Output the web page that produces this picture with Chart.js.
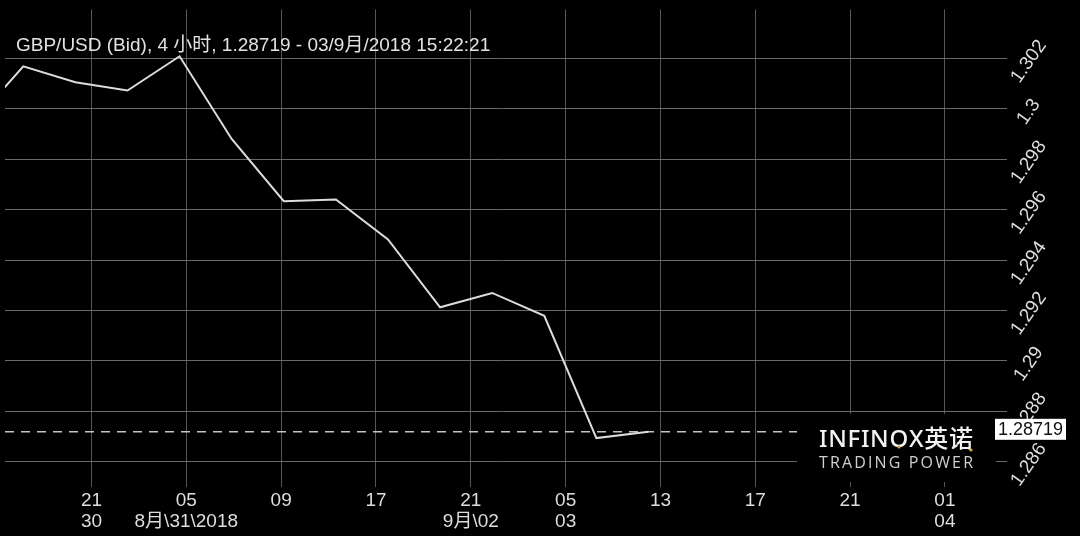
<!DOCTYPE html>
<html>
<head>
<meta charset="utf-8">
<script src="https://cdn.jsdelivr.net/npm/chart.js@4"></script>
<style>
  html, body { margin: 0; padding: 0; background: #000; }
  #c { display: block; }
</style>
</head>
<body>
<canvas id="c" width="1080" height="536"></canvas>
<script>
// 4 hour closes, bar 0 sits just left of the visible window
var barIndex = [0, 1, 2, 3, 4, 5, 6, 7, 8, 9, 10, 11, 12, 13];
var closes = [1.29936, 1.30169, 1.30106, 1.30073, 1.30209, 1.29881, 1.29634,
              1.29641, 1.29482, 1.29213, 1.29270, 1.29179, 1.28694, 1.28719];
var lastPrice = 1.28719;

var yTicks = [1.286, 1.288, 1.29, 1.292, 1.294, 1.296, 1.298, 1.3, 1.302];

// time axis ticks, in bar units
var xTickPos = [2.309, 4.129, 5.949, 7.769, 9.590, 11.410, 13.230, 15.050, 16.870, 18.690];
var xTickLabels = [
    ['21', '30'],
    ['05', '8月\\31\\2018'],
    ['09'],
    ['17'],
    ['21', '9月\\02'],
    ['05', '03'],
    ['13'],
    ['17'],
    ['21'],
    ['01', '04']
];
var titleText = 'GBP/USD (Bid), 4 小时, 1.28719 - 03/9月/2018 15:22:21';

var xMin = 0.649, xMax = 19.747;
var fontFam = '"Liberation Sans", "Noto Sans CJK SC", sans-serif';

function spaced(ctx, text, x0, x1, y) {
    var chars = Array.from(text);
    var sum = 0;
    var ws = chars.map(function (c) { var w = ctx.measureText(c).width; sum += w; return w; });
    var gap = (x1 - x0 - sum) / (chars.length - 1);
    var x = x0;
    chars.forEach(function (c, i) {
        ctx.fillText(c, x, y);
        x += ws[i] + gap;
    });
}

var overlay = {
    id: 'overlay',
    afterDraw: function (chart) {
        var ctx = chart.ctx;
        var ys = chart.scales.y;
        ctx.save();

        ctx.fillStyle = '#e2e2e2';
        ctx.font = '19px ' + fontFam;
        ctx.textAlign = 'left';
        ctx.textBaseline = 'alphabetic';
        ctx.fillText(titleText, 16, 51);

        // logo
        ctx.fillStyle = '#000';
        ctx.fillRect(797, 414, 199, 68);
        ctx.fillStyle = '#f2f2f2';
        ctx.font = '500 24px "Noto Sans", "Noto Sans CJK SC", sans-serif';
        spaced(ctx, 'INFINOX英诺', 819, 973, 447);
        ctx.fillStyle = '#cfcfcf';
        ctx.font = '16px "Open Sans", sans-serif';
        spaced(ctx, 'TRADING POWER', 819, 973, 468);
        ctx.fillStyle = '#d9a82e';
        ctx.beginPath();
        ctx.arc(899, 447, 1.6, 0, Math.PI * 2);
        ctx.arc(971, 450, 1.6, 0, Math.PI * 2);
        ctx.fill();

        // last price box
        var py = ys.getPixelForValue(lastPrice);
        ctx.fillStyle = '#fff';
        ctx.fillRect(995, py - 13, 71, 21);
        ctx.fillStyle = '#111';
        ctx.font = '18px ' + fontFam;
        ctx.textAlign = 'center';
        ctx.textBaseline = 'middle';
        ctx.fillText(lastPrice.toString(), 1030.5, py - 2);
        ctx.restore();
    }
};

var ctx = document.getElementById('c').getContext('2d');
new Chart(ctx, {
    type: 'line',
    data: {
        datasets: [
            {
                data: barIndex.map(function (x, i) { return { x: x, y: closes[i] }; }),
                borderColor: '#dcdcdc',
                borderWidth: 2,
                pointRadius: 0,
                tension: 0
            },
            {
                data: [{ x: xMin, y: lastPrice }, { x: xMax, y: lastPrice }],
                borderColor: '#c4c4c4',
                borderWidth: 1.5,
                borderDash: [9, 7],
                pointRadius: 0
            }
        ]
    },
    options: {
        responsive: false,
        animation: false,
        devicePixelRatio: 1,
        layout: { padding: { left: 5, top: 9, right: 0, bottom: 0 } },
        plugins: {
            legend: { display: false },
            tooltip: { enabled: false },
            title: { display: false }
        },
        scales: {
            x: {
                type: 'linear',
                min: xMin,
                max: xMax,
                afterBuildTicks: function (s) {
                    s.ticks = xTickPos.map(function (v) { return { value: v }; });
                },
                afterFit: function (s) { s.height = 49; },
                grid: { color: '#565656', drawTicks: false },
                border: { display: false },
                ticks: {
                    color: '#dedede',
                    font: { size: 19, family: fontFam, lineHeight: 1.12 },
                    padding: 3,
                    autoSkip: false,
                    maxRotation: 0,
                    callback: function (v, i) { return xTickLabels[i]; }
                }
            },
            y: {
                type: 'linear',
                position: 'right',
                min: 1.285,
                max: 1.30395,
                afterBuildTicks: function (s) {
                    s.ticks = yTicks.map(function (v) { return { value: v }; });
                },
                afterFit: function (s) { s.width = 80; },
                grid: { color: '#6a6a6a', tickLength: 7, drawTicks: true },
                border: { display: false },
                ticks: {
                    color: '#dedede',
                    font: { size: 19, family: fontFam },
                    minRotation: 55,
                    maxRotation: 55,
                    crossAlign: 'center',
                    padding: -2,
                    labelOffset: 3,
                    callback: function (v) { return String(+v.toFixed(3)); }
                }
            }
        }
    },
    plugins: [overlay]
});
</script>
</body>
</html>
